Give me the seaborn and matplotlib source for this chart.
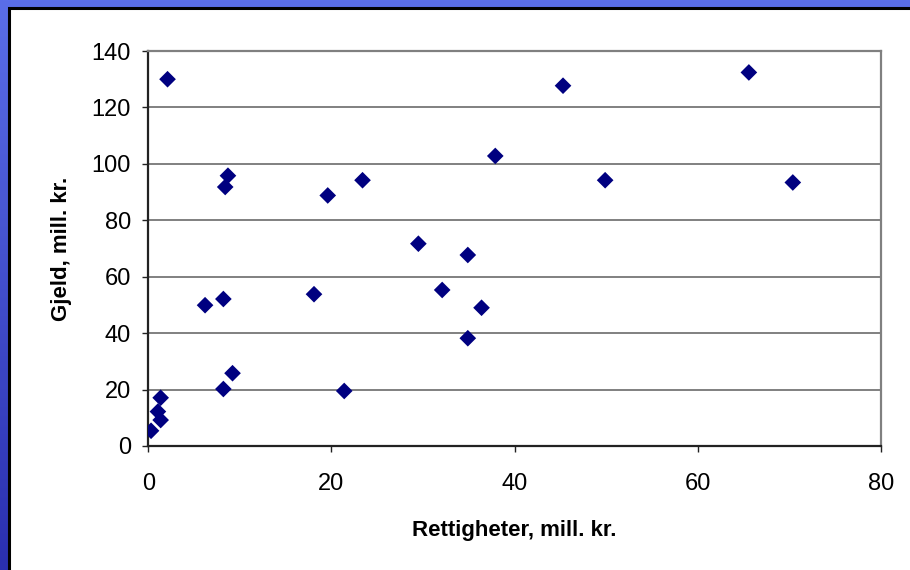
import matplotlib
matplotlib.use("Agg")
import matplotlib.pyplot as plt
from matplotlib.patches import Rectangle
from matplotlib.colors import LinearSegmentedColormap
import numpy as np
import pandas as pd
import seaborn as sns

rettigheter = [2.1, 8.7, 8.4, 19.6, 23.4, 37.9, 29.5, 34.9, 45.3, 65.6, 49.9, 70.4,
               32.1, 36.4, 34.9, 21.4, 18.1, 6.2, 8.2, 9.2, 8.2, 1.35, 1.05, 1.35, 0.3]
gjeld = [130.0, 95.8, 91.8, 88.8, 94.2, 102.8, 71.7, 67.7, 127.7, 132.4, 94.2, 93.4,
         55.3, 49.0, 38.2, 19.5, 53.8, 49.9, 52.1, 25.8, 20.2, 17.1, 12.2, 9.2, 5.4]

x_ticks = [0, 20, 40, 60, 80]
y_ticks = [0, 20, 40, 60, 80, 100, 120, 140]
x_label = "Rettigheter, mill. kr."
y_label = "Gjeld, mill. kr."

df = pd.DataFrame({"Rettigheter": rettigheter, "Gjeld": gjeld})

sns.set_style("white")
plt.rcParams["font.family"] = ["Liberation Sans", "DejaVu Sans"]

W, H = 910, 570
fig = plt.figure(figsize=(W / 100, H / 100), dpi=100)

# blue gradient background
bg = fig.add_axes([0, 0, 1, 1], zorder=-10)
grad = np.linspace(0, 1, 256).reshape(-1, 1)
cmap = LinearSegmentedColormap.from_list("b", ["#5a6ee8", "#2a2fb0"])
bg.imshow(grad, aspect="auto", cmap=cmap, extent=[0, 1, 0, 1], origin="upper")
bg.set_axis_off()

# white chart panel with black border
panel = Rectangle((8.5 / W, -0.01), 1.0, 1 - 7.5 / H + 0.01, transform=fig.transFigure,
                  facecolor="white", edgecolor="black", linewidth=2.2, zorder=-5)
fig.patches.append(panel)

ax = fig.add_axes([148.3 / W, 1 - 446 / H, (880.7 - 148.3) / W, (446 - 51) / H])
ax.set_facecolor("white")
sns.scatterplot(data=df, x="Rettigheter", y="Gjeld", marker="D", color="#000080",
                s=72, edgecolor="none", linewidth=0, ax=ax, zorder=3)

ax.set_xlim(0, 80)
ax.set_ylim(0, 140)
ax.set_xticks(x_ticks)
ax.set_yticks(y_ticks)
ax.set_xticklabels([str(v) for v in x_ticks])
ax.set_yticklabels([str(v) for v in y_ticks])

ax.yaxis.grid(True, color="#808080", linewidth=1.4, zorder=0)
ax.xaxis.grid(False)
ax.set_axisbelow(True)

for s in ["top", "right"]:
    ax.spines[s].set_color("#808080")
    ax.spines[s].set_linewidth(1.6)
for s in ["left", "bottom"]:
    ax.spines[s].set_color("#222222")
    ax.spines[s].set_linewidth(1.6)

ax.tick_params(axis="both", direction="out", length=4.5, width=1.0, color="#222222",
               labelsize=17, labelcolor="black", bottom=True, left=True)
ax.tick_params(axis="y", pad=8)
ax.tick_params(axis="x", pad=15)

ax.set_xlabel(x_label, fontsize=16, fontweight="bold", color="black", labelpad=18)
ax.set_ylabel(y_label, fontsize=16, fontweight="bold", color="black", labelpad=14)

fig.savefig("out.png", dpi=100)
